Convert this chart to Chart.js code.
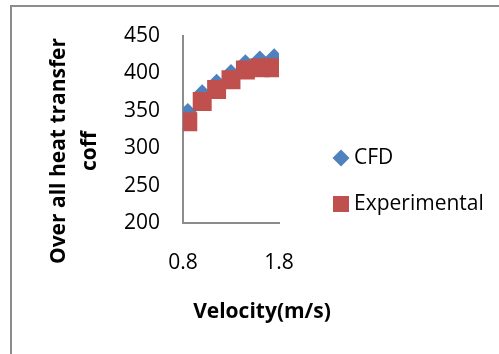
<!DOCTYPE html>
<html>
<head>
<meta charset="utf-8">
<script src="https://cdn.jsdelivr.net/npm/chart.js@4/dist/chart.umd.min.js"></script>
<style>
  html, body { margin: 0; padding: 0; background: #fff; }
  #wrap { position: relative; width: 499px; height: 354px; overflow: hidden; }
  #frame { position: absolute; left: 10px; top: 5px; width: 600px; height: 500px;
           border-top: 2px solid #8c8c8c; border-left: 2px solid #8c8c8c; }
  canvas { position: absolute; left: 0; top: 0; }
</style>
</head>
<body>
<div id="wrap">
  <div id="frame"></div>
  <canvas id="chart" width="499" height="354"></canvas>
</div>
<script>
const velocity = [0.85, 1.0, 1.15, 1.3, 1.45, 1.6, 1.75];
const cfd = [348, 373, 387, 400, 413, 418, 421];
const experimental = [335, 362, 378, 391, 404, 407, 407];
const xTicks = [0.8, 1.8];
const yTicks = [200, 250, 300, 350, 400, 450];

const seriesNames = ['CFD', 'Experimental'];
const yTitle = ['Over all heat transfer', 'coff'];
const xTitle = 'Velocity(m/s)';

const FONT = '"Open Sans", Lato, sans-serif';

function toPoints(xs, ys) {
  return xs.map((x, i) => ({ x, y: ys[i] }));
}

// titles and the legend sit where Excel put them, not where Chart.js would
const decorations = {
  id: 'decorations',
  afterDraw(chart) {
    const ctx = chart.ctx;
    ctx.save();
    ctx.fillStyle = '#000';
    ctx.font = 'bold 21px ' + FONT;
    ctx.textAlign = 'center';
    ctx.textBaseline = 'middle';

    ctx.save();
    ctx.translate(59, 151);
    ctx.rotate(-Math.PI / 2);
    ctx.fillText(yTitle[0], 0, 0);
    ctx.fillText(yTitle[1], 0, 31);
    ctx.restore();

    ctx.fillText(xTitle, 262, 312);

    ctx.font = '21px ' + FONT;
    ctx.textAlign = 'left';
    const rows = [158, 204];
    chart.data.datasets.forEach((ds, i) => {
      ctx.fillStyle = ds.backgroundColor;
      Chart.helpers.drawPoint(ctx, {
        pointStyle: ds.pointStyle,
        radius: ds.pointStyle === 'rect' ? 11.3 : 8.5,
        rotation: 0,
        borderWidth: 0
      }, 341, rows[i]);
      ctx.fillStyle = '#000';
      ctx.fillText(ds.label, 354, rows[i]);
    });
    ctx.restore();
  }
};

new Chart(document.getElementById('chart'), {
  type: 'scatter',
  data: {
    datasets: [
      {
        label: seriesNames[0],
        data: toPoints(velocity, cfd),
        pointStyle: 'rectRot',
        pointRadius: 9,
        pointHoverRadius: 9,
        backgroundColor: '#4f81bd',
        borderColor: '#4f81bd',
        borderWidth: 0,
        order: 2
      },
      {
        label: seriesNames[1],
        data: toPoints(velocity, experimental),
        pointStyle: 'rect',
        pointRadius: 13.4,
        pointHoverRadius: 13.4,
        backgroundColor: '#c0504d',
        borderColor: '#c0504d',
        borderWidth: 0,
        order: 1
      }
    ]
  },
  options: {
    responsive: false,
    animation: false,
    layout: { padding: { left: 0, top: 33, right: 220, bottom: 0 } },
    plugins: {
      legend: { display: false },
      tooltip: { enabled: false }
    },
    scales: {
      x: {
        type: 'linear',
        min: xTicks[0],
        max: xTicks[xTicks.length - 1],
        afterBuildTicks: s => { s.ticks = xTicks.map(v => ({ value: v })); },
        afterFit: s => { s.height = 131; },
        grid: { display: false, drawTicks: false },
        border: { display: true, color: '#8c8c8c', width: 2 },
        ticks: {
          padding: 27,
          color: '#000',
          font: { family: FONT, size: 21 },
          callback: v => v.toFixed(1)
        }
      },
      y: {
        type: 'linear',
        min: yTicks[0],
        max: yTicks[yTicks.length - 1],
        afterBuildTicks: s => { s.ticks = yTicks.map(v => ({ value: v })); },
        afterFit: s => { s.width = 183; },
        grid: { display: false, drawTicks: false },
        border: { display: true, color: '#8c8c8c', width: 2 },
        ticks: {
          padding: 23,
          color: '#000',
          font: { family: FONT, size: 21 }
        }
      }
    }
  },
  plugins: [decorations]
});
</script>
</body>
</html>
